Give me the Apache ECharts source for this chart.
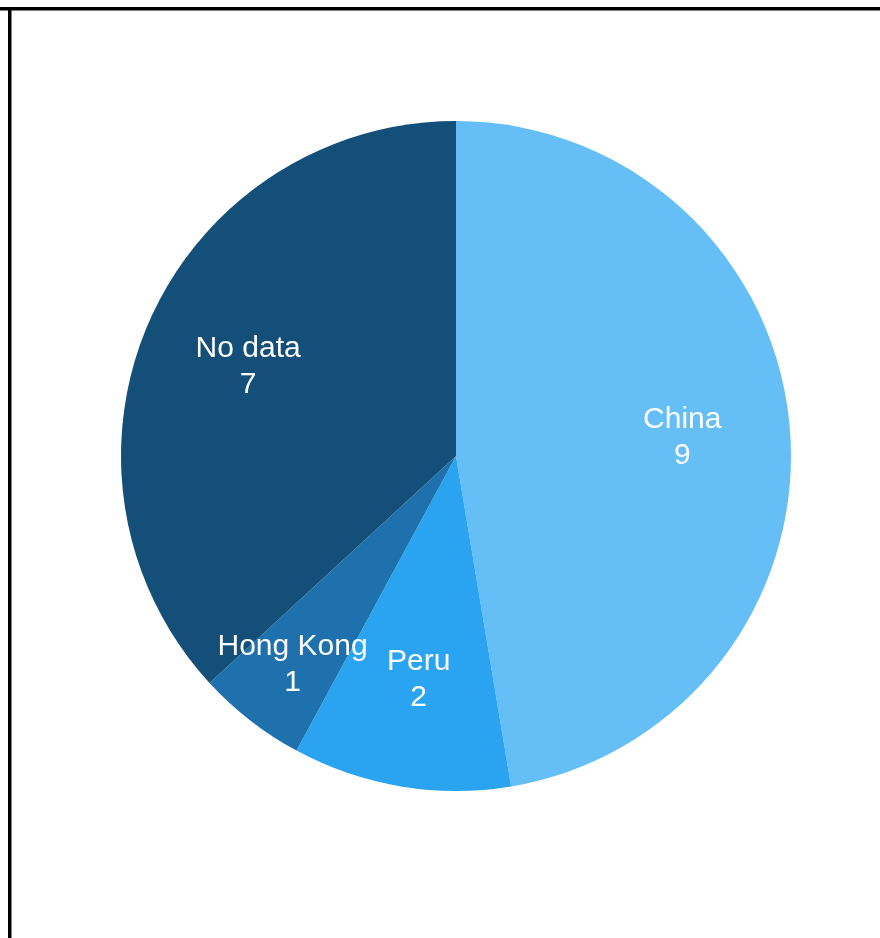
<!DOCTYPE html>
<html><head><meta charset="utf-8">
<style>html,body{margin:0;padding:0;background:#fff}#c{width:880px;height:938px}</style>
<script src="https://cdn.jsdelivr.net/npm/echarts@6/dist/echarts.min.js"></script>
</head><body><div id="c"></div>
<script>
const categories = ["China", "Peru", "Hong Kong", "No data"];
const values = [9, 2, 1, 7];
const colors = ["#65BEF5", "#2AA4F0", "#1F71AD", "#134F78"];
const labelOffsets = [[0,0],[0,0],[-24,30],[0,2]];

const chart = echarts.init(document.getElementById('c'), null, {renderer:'canvas'});
const pieData = categories.map((n,i)=>({name:n, value:values[i], itemStyle:{color:colors[i]}}));
const labelData = categories.map((n,i)=>({name:n, value:values[i], label:{offset:labelOffsets[i]}}));
chart.setOption({
  animation:false,
  graphic:[
    {type:'rect', shape:{x:0,y:7,width:880,height:3.5}, style:{fill:'#000'}},
    {type:'rect', shape:{x:8,y:7,width:3.5,height:931}, style:{fill:'#000'}}
  ],
  series:[
    {type:'pie', center:[456,456], radius:[0,335], startAngle:90, clockwise:true,
     data:pieData, label:{show:false}, labelLine:{show:false},
     itemStyle:{borderWidth:0}, emphasis:{disabled:true}},
    {type:'pie', center:[456,456], radius:[113,335], startAngle:90, clockwise:true,
     data:labelData, silent:true,
     itemStyle:{color:'rgba(0,0,0,0)', borderWidth:0},
     label:{show:true, position:'inside', formatter:'{b}\n{c}', color:'#fff',
       fontFamily:'Liberation Sans, Arial, sans-serif', fontSize:30, lineHeight:36, align:'center'},
     labelLine:{show:false}, emphasis:{disabled:true}}
  ]
});
</script></body></html>
